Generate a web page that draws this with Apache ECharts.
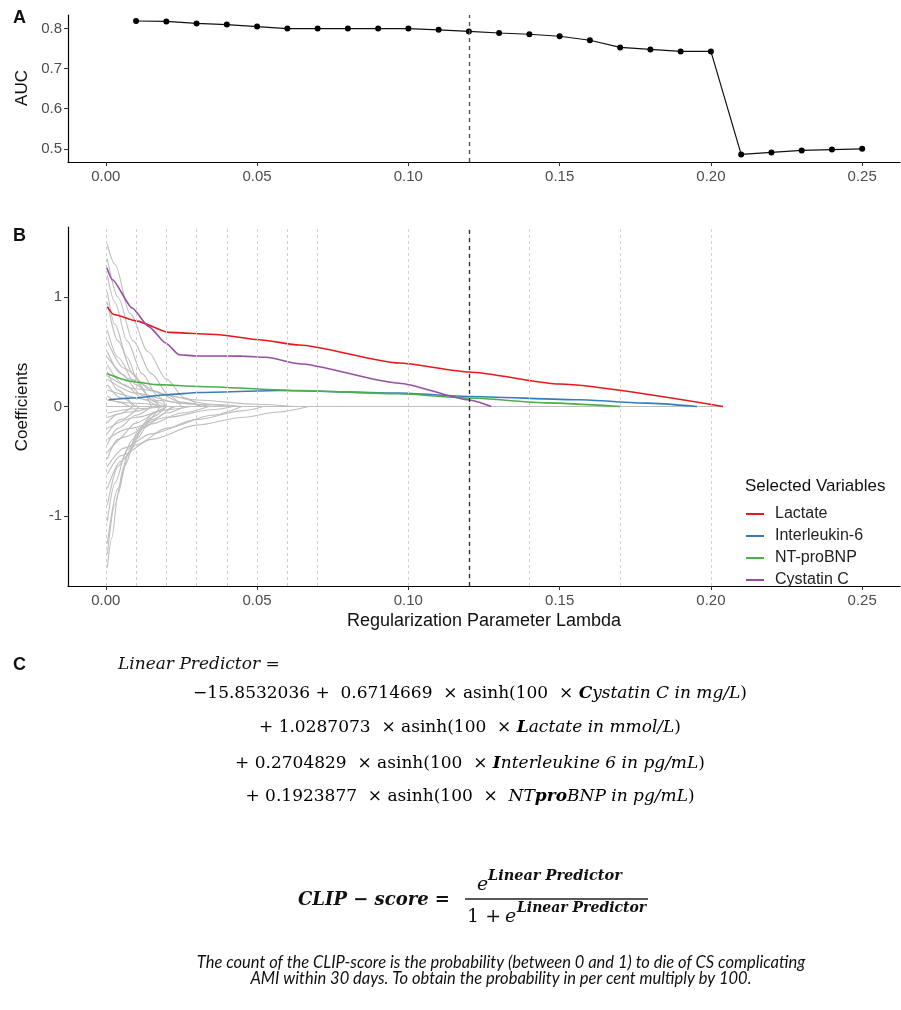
<!DOCTYPE html>
<html>
<head>
<meta charset="utf-8">
<script src="https://cdn.jsdelivr.net/npm/echarts@6/dist/echarts.min.js"></script>
<style>
  html, body { margin: 0; padding: 0; background: #fff; }
  #main { width: 901px; height: 1010px; }
</style>
</head>
<body>
<div id="main"></div>
<script>
// panel A: AUC over lambda
const lambdaGrid = [0.01, 0.02, 0.03, 0.04, 0.05, 0.06, 0.07, 0.08, 0.09, 0.10, 0.11, 0.12, 0.13,
    0.14, 0.15, 0.16, 0.17, 0.18, 0.19, 0.20, 0.21, 0.22, 0.23, 0.24, 0.25];
const aucValues = [0.819, 0.818, 0.813, 0.810, 0.805, 0.800, 0.800, 0.800, 0.800, 0.800, 0.797, 0.793, 0.789,
    0.786, 0.781, 0.771, 0.753, 0.748, 0.743, 0.743, 0.486, 0.491, 0.496, 0.498, 0.500];
const lambdaBest = 0.12;
const xTicks = [0, 0.05, 0.10, 0.15, 0.20, 0.25];
const aucTicks = [0.5, 0.6, 0.7, 0.8];
const coefTicks = [-1, 0, 1];

// panel B: lambda path (dashed grey verticals)
const lambdaPath = [0.0002, 0.0005, 0.0008, 0.0011, 0.0014, 0.0018, 0.0022, 0.0027, 0.0033, 0.004,
    0.0049, 0.0058, 0.0069, 0.0083, 0.0103, 0.0159, 0.0199, 0.0238, 0.0262, 0.0288, 0.0318, 0.0348,
    0.0384, 0.0417, 0.0499, 0.0553, 0.0606, 0.0666, 0.0732, 0.097, 0.117, 0.1407, 0.169, 0.204];

// selected variables [lambda, coefficient]
const lactate = [[0.0005, 0.91], [0.0026, 0.84], [0.0103, 0.78], [0.0208, 0.677], [0.0374, 0.656],
    [0.0507, 0.61], [0.0639, 0.562], [0.097, 0.397], [0.12, 0.315], [0.15, 0.205], [0.204, 0]];
const interleukin6 = [[0.001, 0.061], [0.0087, 0.077], [0.0199, 0.107], [0.0308, 0.128], [0.0573, 0.146],
    [0.097, 0.122], [0.1202, 0.092], [0.1566, 0.061], [0.1788, 0.031], [0.1954, 0]];
const ntProBNP = [[0.0005, 0.30], [0.0087, 0.23], [0.0166, 0.20], [0.0308, 0.183], [0.0639, 0.146],
    [0.097, 0.116], [0.1202, 0.077], [0.1457, 0.033], [0.17, 0]];
const cystatinC = [[0.0003, 1.27], [0.0021, 1.16], [0.0087, 0.90], [0.0142, 0.73], [0.0198, 0.58],
    [0.0242, 0.473], [0.03, 0.462], [0.045, 0.46], [0.053, 0.45], [0.0639, 0.39], [0.097, 0.213],
    [0.1202, 0.06], [0.1274, 0]];

// other variables (grey)
const greyPaths = [
    [[0.0005, 1.48], [0.003, 1.3], [0.008, 0.85], [0.014, 0.5], [0.02, 0.25], [0.026, 0.08], [0.031, 0]],
    [[0.0005, 1.35], [0.004, 1.0], [0.009, 0.6], [0.015, 0.3], [0.021, 0.1], [0.025, 0]],
    [[0.0005, 1.2], [0.003, 0.95], [0.007, 0.6], [0.012, 0.3], [0.017, 0.1], [0.02, 0]],
    [[0.0005, 1.05], [0.003, 0.75], [0.007, 0.45], [0.011, 0.2], [0.015, 0]],
    [[0.0005, 0.95], [0.004, 0.6], [0.009, 0.3], [0.014, 0.1], [0.018, 0]],
    [[0.0005, 0.7], [0.004, 0.45], [0.01, 0.2], [0.016, 0.05], [0.02, 0]],
    [[0.0005, 0.6], [0.006, 0.35], [0.015, 0.15], [0.025, 0.04], [0.032, 0]],
    [[0.0005, 0.5], [0.005, 0.3], [0.012, 0.1], [0.018, 0]],
    [[0.0005, 0.45], [0.008, 0.25], [0.02, 0.1], [0.035, 0.02], [0.045, 0]],
    [[0.0005, 0.38], [0.006, 0.2], [0.013, 0.06], [0.017, 0]],
    [[0.0005, 0.32], [0.004, 0.15], [0.009, 0]],
    [[0.0005, 0.28], [0.01, 0.16], [0.03, 0.06], [0.05, 0.02], [0.062, 0]],
    [[0.0005, 0.25], [0.01, 0.12], [0.025, 0.03], [0.035, 0]],
    [[0.0005, 0.2], [0.005, 0.08], [0.01, 0]],
    [[0.0005, 0.15], [0.015, 0.06], [0.03, 0.02], [0.042, 0]],
    [[0.0005, 0.1], [0.004, 0.04], [0.008, 0]],
    [[0.0005, 0.06], [0.01, 0.03], [0.02, 0]],
    [[0.0005, -1.47], [0.002, -1.2], [0.004, -0.8], [0.007, -0.45], [0.011, -0.2], [0.016, -0.05], [0.02, 0]],
    [[0.0005, -1.35], [0.003, -0.9], [0.006, -0.55], [0.01, -0.3], [0.015, -0.12], [0.022, 0]],
    [[0.0005, -1.25], [0.004, -0.75], [0.008, -0.4], [0.013, -0.15], [0.018, 0]],
    [[0.0005, -1.05], [0.003, -0.7], [0.007, -0.4], [0.012, -0.2], [0.02, -0.06], [0.026, 0]],
    [[0.0005, -0.9], [0.004, -0.55], [0.009, -0.3], [0.015, -0.1], [0.02, 0]],
    [[0.0005, -0.75], [0.005, -0.5], [0.01, -0.35], [0.02, -0.2], [0.035, -0.08], [0.045, 0]],
    [[0.0005, -0.62], [0.005, -0.45], [0.015, -0.3], [0.03, -0.17], [0.045, -0.1], [0.057, -0.05], [0.067, 0]],
    [[0.0005, -0.55], [0.006, -0.38], [0.015, -0.25], [0.03, -0.12], [0.045, -0.04], [0.052, 0]],
    [[0.0005, -0.48], [0.004, -0.3], [0.01, -0.15], [0.018, -0.04], [0.023, 0]],
    [[0.0005, -0.42], [0.006, -0.28], [0.015, -0.16], [0.025, -0.06], [0.034, 0]],
    [[0.0005, -0.35], [0.004, -0.2], [0.01, -0.08], [0.015, 0]],
    [[0.0005, -0.3], [0.008, -0.2], [0.02, -0.1], [0.035, -0.03], [0.042, 0]],
    [[0.0005, -0.25], [0.005, -0.12], [0.011, 0]],
    [[0.0005, -0.2], [0.01, -0.1], [0.02, -0.03], [0.028, 0]],
    [[0.0005, -0.15], [0.004, -0.07], [0.009, 0]],
    [[0.0005, -0.1], [0.008, -0.05], [0.016, 0]],
    [[0.0005, -0.06], [0.01, -0.02], [0.02, 0]]
];
const zeroLine = [[0, 0], [0.204, 0]];

const selectedNames = ['Lactate', 'Interleukin-6', 'NT-proBNP', 'Cystatin C'];
const selectedColors = ['#E41A1C', '#377EB8', '#4DAF4A', '#984EA3'];
const selectedData = [lactate, interleukin6, ntProBNP, cystatinC];

const chart = echarts.init(document.getElementById('main'), null, { renderer: 'canvas' });

const sans = 'Liberation Sans, Arial, sans-serif';
const serif = 'DejaVu Serif, serif';

function xAxisCfg(index, name) {
    return {
        type: 'value', gridIndex: index, min: -0.0125, max: 0.2625,
        name: name, nameLocation: 'middle', nameGap: 26,
        nameTextStyle: { fontSize: 18, color: '#111', fontFamily: sans },
        splitLine: { show: false },
        axisLine: { onZero: false, lineStyle: { color: '#000', width: 1.2 } },
        axisTick: { length: 4, customValues: xTicks, lineStyle: { color: '#333' } },
        axisLabel: {
            customValues: xTicks, margin: 7, fontSize: 15, color: '#4d4d4d', fontFamily: sans,
            formatter: function (v) { return v.toFixed(2); }
        }
    };
}

function yAxisCfg(index, min, max, ticks, digits) {
    return {
        type: 'value', gridIndex: index, min: min, max: max,
        splitLine: { show: false },
        axisLine: { show: true, onZero: false, lineStyle: { color: '#000', width: 1.2 } },
        axisTick: { show: true, length: 4, customValues: ticks, lineStyle: { color: '#333' } },
        axisLabel: {
            customValues: ticks, margin: 6, fontSize: 15, color: '#4d4d4d', fontFamily: sans,
            formatter: function (v) { return v.toFixed(digits); }
        }
    };
}

let series = [];

//AUC curve
series.push({
    type: 'line', xAxisIndex: 0, yAxisIndex: 0,
    data: lambdaGrid.map(function (l, i) { return [l, aucValues[i]]; }),
    symbol: 'circle', symbolSize: 6,
    itemStyle: { color: '#000' },
    lineStyle: { color: '#111', width: 1.2 },
    markLine: {
        silent: true, symbol: 'none', label: { show: false },
        lineStyle: { color: '#555', type: [4, 4], width: 1.4 },
        data: [{ xAxis: lambdaBest }]
    },
    z: 3
});

//zero baseline + lambda path verticals
series.push({
    type: 'line', xAxisIndex: 1, yAxisIndex: 1, data: zeroLine,
    showSymbol: false, lineStyle: { color: '#bebebe', width: 1.2 },
    markLine: {
        silent: true, symbol: 'none', label: { show: false },
        lineStyle: { color: '#cfcfcf', type: [3, 3], width: 0.9 },
        data: lambdaPath.map(function (v) { return { xAxis: v }; })
    },
    z: 1
});

//grey paths
for (var i = 0; i < greyPaths.length; i++) {
    series.push({
        type: 'line', xAxisIndex: 1, yAxisIndex: 1, data: greyPaths[i],
        showSymbol: false, smooth: 0.3, smoothMonotone: 'x',
        lineStyle: { color: '#bebebe', width: 1.1 }, z: 2
    });
}

//selected variables
for (var i = 0; i < selectedData.length; i++) {
    var s = {
        name: selectedNames[i], type: 'line', xAxisIndex: 1, yAxisIndex: 1,
        data: selectedData[i], showSymbol: false, smooth: 0.2, smoothMonotone: 'x',
        itemStyle: { color: selectedColors[i] },
        lineStyle: { color: selectedColors[i], width: 1.6 }, z: 4
    };
    if (i == 0) {
        s.markLine = {
            silent: true, symbol: 'none', label: { show: false },
            lineStyle: { color: '#333', type: [4, 4], width: 1.4 },
            data: [{ xAxis: lambdaBest }]
        };
    }
    series.push(s);
}

function txt(x, y, text, font, extra) {
    var st = {
        text: text, font: font, fill: '#111',
        align: 'left', textAlign: 'left', verticalAlign: 'middle', textVerticalAlign: 'middle'
    };
    for (var k in extra) st[k] = extra[k];
    return { type: 'text', x: x, y: y, style: st, z: 10 };
}

const richEq = {
    n: { fontFamily: serif, fontSize: 17, color: '#111' },
    it: { fontFamily: serif, fontSize: 17, fontStyle: 'italic', color: '#111' },
    bi: { fontFamily: serif, fontSize: 17, fontStyle: 'italic', fontWeight: 'bold', color: '#111' }
};

function eqLine(y, text) {
    return {
        type: 'text', x: 470, y: y, z: 10,
        style: { text: text, rich: richEq, align: 'center', textAlign: 'center',
            verticalAlign: 'middle', textVerticalAlign: 'middle' }
    };
}

const graphics = [
    txt(13, 18, 'A', 'bold 18px ' + sans),
    txt(13, 236, 'B', 'bold 18px ' + sans),
    txt(13, 665, 'C', 'bold 18px ' + sans),
    { type: 'text', x: 22, y: 88, rotation: Math.PI / 2, z: 10,
      style: { text: 'AUC', font: '17px ' + sans, fill: '#111', align: 'center', textAlign: 'center',
          verticalAlign: 'middle', textVerticalAlign: 'middle' } },
    { type: 'text', x: 22, y: 407, rotation: Math.PI / 2, z: 10,
      style: { text: 'Coefficients', font: '17px ' + sans, fill: '#111', align: 'center', textAlign: 'center',
          verticalAlign: 'middle', textVerticalAlign: 'middle' } },
    txt(745, 486, 'Selected Variables', '17px ' + sans),
    txt(118, 665, 'Linear Predictor =', 'italic 17px ' + serif),
    eqLine(694, '{n|\u221215.8532036 +  0.6714669  \u00d7 asinh(100  \u00d7 }{bi|C}{it|ystatin C in mg/L}{n|)}'),
    eqLine(728, '{n|+ 1.0287073  \u00d7 asinh(100  \u00d7 }{bi|L}{it|actate in mmol/L}{n|)}'),
    eqLine(764, '{n|+ 0.2704829  \u00d7 asinh(100  \u00d7 }{bi|I}{it|nterleukine 6 in pg/mL}{n|)}'),
    eqLine(797, '{n|+ 0.1923877  \u00d7 asinh(100  \u00d7  }{it|NT}{bi|pro}{it|BNP in pg/mL}{n|)}'),
    txt(298, 900, 'CLIP \u2212 score =', 'italic bold 18px ' + serif),
    txt(477, 885, 'e', 'italic 19px ' + serif),
    txt(488, 876, 'Linear Predictor', 'italic bold 14.5px ' + serif),
    { type: 'line', z: 10, shape: { x1: 465, y1: 899, x2: 648, y2: 899 },
      style: { stroke: '#222', lineWidth: 1.5 } },
    txt(467, 917, '1 + ', '19px ' + serif),
    txt(505, 917, 'e', 'italic 19px ' + serif),
    txt(517, 908, 'Linear Predictor', 'italic bold 14px ' + serif),
    { type: 'text', x: 501, y: 955, z: 10,
      style: { text: 'The count of the CLIP-score is the probability (between 0 and 1) to die of CS complicating\nAMI within 30 days. To obtain the probability in per cent multiply by 100.',
          font: 'italic 16.5px Lato, sans-serif', fill: '#111', lineHeight: 15.5,
          align: 'center', textAlign: 'center', verticalAlign: 'top', textVerticalAlign: 'top' } }
];

const option = {
    backgroundColor: '#fff',
    animation: false,
    grid: [
        { left: 68, right: 1, top: 15, height: 147 },
        { left: 68, right: 1, top: 227, height: 359 }
    ],
    xAxis: [xAxisCfg(0, ''), xAxisCfg(1, 'Regularization Parameter Lambda')],
    yAxis: [yAxisCfg(0, 0.467, 0.834, aucTicks, 1), yAxisCfg(1, -1.64, 1.64, coefTicks, 0)],
    legend: {
        data: selectedNames, orient: 'vertical', left: 746, top: 506, padding: 0,
        icon: 'rect', itemWidth: 18, itemHeight: 2, itemGap: 6,
        textStyle: { fontSize: 16, color: '#222', fontFamily: sans, lineHeight: 15, padding: [0, 0, 0, 6] }
    },
    series: series,
    graphic: graphics
};

chart.setOption(option);
</script>
</body>
</html>
